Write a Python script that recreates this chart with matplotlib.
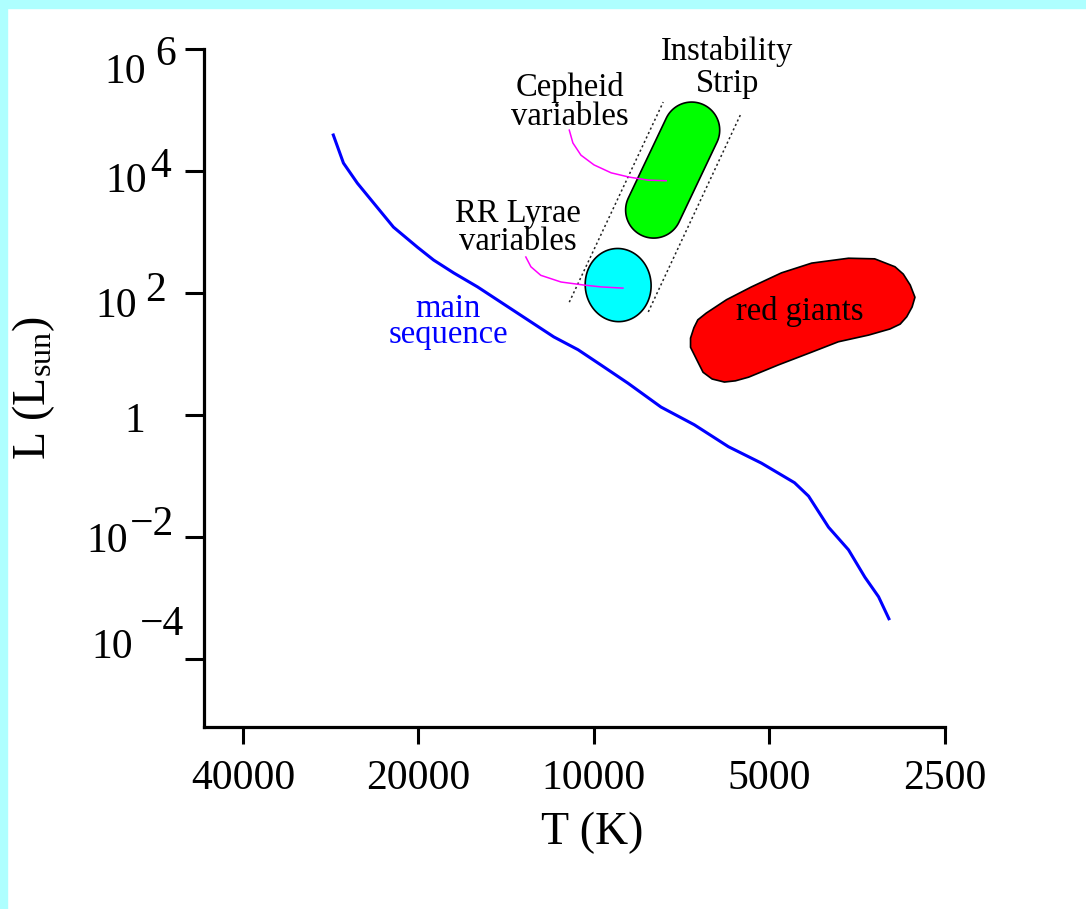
import numpy as np
import matplotlib
matplotlib.use("Agg")
import matplotlib.pyplot as plt
from matplotlib.patches import Rectangle
from matplotlib.ticker import NullLocator, NullFormatter, FixedFormatter

plt.rcParams['font.family'] = ['Liberation Serif', 'DejaVu Serif']
plt.rcParams['mathtext.fontset'] = 'custom'
plt.rcParams['mathtext.rm'] = 'Liberation Serif'
plt.rcParams['mathtext.it'] = 'Liberation Serif:italic'

# --- main sequence (T in K, log10 L in L_sun) ---
ms_T = [28000, 26900, 25460, 23900, 22080, 20080, 18840, 17410, 15840, 14450,
        12990, 11720, 10650, 9730, 8740, 7675, 6730, 5880, 5160, 4530,
        4285, 3960, 3660, 3430, 3250, 3120]
ms_logL = [4.59, 4.13, 3.80, 3.48, 3.08, 2.75, 2.54, 2.33, 2.10, 1.85,
           1.56, 1.28, 1.07, 0.82, 0.52, 0.13, -0.16, -0.52, -0.79, -1.11,
           -1.33, -1.84, -2.21, -2.66, -2.98, -3.34]

# --- red giant region outline ---
rg_T = [6830, 6830, 6740, 6636, 6420, 5925, 5370, 4770, 4233, 3660, 3300,
        3046, 2948, 2868, 2815, 2847, 2908, 2984, 3107, 3380, 3810, 4233,
        4830, 5430, 5720, 5975, 6272, 6500, 6620]
rg_logL = [1.11, 1.26, 1.43, 1.56, 1.67, 1.89, 2.10, 2.33, 2.49, 2.57, 2.56,
           2.43, 2.31, 2.13, 1.93, 1.77, 1.61, 1.49, 1.41, 1.31, 1.20, 1.03,
           0.82, 0.62, 0.56, 0.54, 0.59, 0.70, 0.85]

# --- instability strip: Cepheids (capsule), RR Lyrae (blob) ---
cep_T = [7900, 6800]
cep_logL = [3.36, 4.67]
cep_halfwidth = 0.46          # dex of L
rr_T = 9090
rr_logL = 2.13
rr_axes = (0.54, 0.60)        # dex of L

strip_left_T = [11025, 7608]
strip_left_logL = [1.85, 5.13]
strip_right_T = [8070, 5590]
strip_right_logL = [1.69, 4.95]

# leader lines from labels
cep_lead_T = [11025, 10870, 10530, 10000, 9345, 8705, 8070, 7520]
cep_lead_logL = [4.67, 4.46, 4.26, 4.10, 3.97, 3.90, 3.85, 3.84]
rr_lead_T = [13090, 12830, 12340, 11390, 10400, 9730, 8920]
rr_lead_logL = [2.59, 2.43, 2.29, 2.18, 2.13, 2.10, 2.08]

# --- axes ticks ---
T_ticks = [40000, 20000, 10000, 5000, 2500]
T_labels = ['40000', '20000', '10000', '5000', '2500']
L_ticks = [1e6, 1e4, 1e2, 1, 1e-2, 1e-4]
L_bases = ['10', '10', '10', '1', '10', '10']
L_exps = ['6', '4', '2', '', '\u22122', '\u22124']
# hand-placed label offsets (pixels): base right edge/baseline, exponent left edge/baseline
L_base_off = [(-58, -34), (-57, -21), (-67, -24), (-59, -17), (-76, -15), (-71, 1)]
L_exp_off = [(-49, -16), (-54, -6), (-59, -8), (0, 0), (-74, 2), (-64, 24)]

W, H = 1086, 909
fig = plt.figure(figsize=(W / 100, H / 100), dpi=100)
fig.patch.set_facecolor('white')
fig.add_artist(Rectangle((0, 0), 7 / W, 1, transform=fig.transFigure,
                         color='#AEFFFF', zorder=0))
fig.add_artist(Rectangle((0, 1 - 8 / H), 1, 8 / H, transform=fig.transFigure,
                         color='#AEFFFF', zorder=0))

ax = fig.add_axes([204 / W, (H - 727) / H, (945 - 204) / W, (727 - 49) / H])
ax.set_xscale('log')
ax.set_yscale('log')
ax.set_xlim(46660, 2500)
ax.set_ylim(10 ** -5.115, 1e6)

for s in ['top', 'right']:
    ax.spines[s].set_visible(False)
for s in ['left', 'bottom']:
    ax.spines[s].set_linewidth(2.3)

ax.set_xticks(T_ticks)
ax.xaxis.set_major_formatter(FixedFormatter(T_labels))
ax.xaxis.set_minor_locator(NullLocator())
ax.set_yticks(L_ticks)
ax.yaxis.set_major_formatter(NullFormatter())
ax.yaxis.set_minor_locator(NullLocator())
ax.tick_params(axis='x', direction='out', length=12.5, width=2.2,
               labelsize=30, pad=11)
ax.tick_params(axis='y', direction='out', length=13.7, width=2.2)

for yv, b, e, bo, eo in zip(L_ticks, L_bases, L_exps, L_base_off, L_exp_off):
    ax.annotate(b, xy=(0, yv), xycoords=('axes fraction', 'data'),
                xytext=bo, textcoords='offset pixels',
                ha='right', va='baseline', fontsize=30)
    if e:
        ax.annotate(e, xy=(0, yv), xycoords=('axes fraction', 'data'),
                    xytext=eo, textcoords='offset pixels',
                    ha='left', va='baseline', fontsize=30)

ax.set_xlabel('T (K)', fontsize=33)
ax.xaxis.set_label_coords(0.524, -0.125)
ax.set_ylabel(r'L $(\mathrm{L}_{\mathrm{sun}})$', fontsize=33)
ax.yaxis.set_label_coords(-0.199, 0.50)

# ratio of pixel size of one dex in T to one dex in L
pos = ax.get_position()
x_dex = np.log10(46660 / 2500)
y_dex = 6 + 5.115
k = (pos.width * W / x_dex) / (pos.height * H / y_dex)


def capsule(T_ends, logL_ends, r, n=60):
    u = -np.log10(T_ends) * k
    v = np.asarray(logL_ends, dtype=float)
    d = np.arctan2(v[1] - v[0], u[1] - u[0])
    t1 = np.linspace(d - np.pi / 2, d + np.pi / 2, n)
    t0 = np.linspace(d + np.pi / 2, d + 3 * np.pi / 2, n)
    uu = np.concatenate([u[1] + r * np.cos(t1), u[0] + r * np.cos(t0)])
    vv = np.concatenate([v[1] + r * np.sin(t1), v[0] + r * np.sin(t0)])
    return 10 ** (-uu / k), 10 ** vv


def ellipse(Tc, logLc, a, b, ang, n=120):
    t = np.linspace(0, 2 * np.pi, n)
    x, y = a * np.cos(t), b * np.sin(t)
    c, s = np.cos(ang), np.sin(ang)
    uu = -np.log10(Tc) * k + x * c - y * s
    vv = logLc + x * s + y * c
    return 10 ** (-uu / k), 10 ** vv


# instability strip edges
for sT, sL in [(strip_left_T, strip_left_logL), (strip_right_T, strip_right_logL)]:
    ax.plot(sT, 10 ** np.array(sL), color='#222222', lw=1.1,
            ls=(0, (1.4, 1.8)), zorder=2)

cx, cy = capsule(cep_T, cep_logL, cep_halfwidth)
ax.fill(cx, cy, facecolor='#00FF00', edgecolor='black', lw=1.2, zorder=3)
ex, ey = ellipse(rr_T, rr_logL, rr_axes[0], rr_axes[1], 0.08)
ax.fill(ex, ey, facecolor='#00FFFF', edgecolor='black', lw=1.2, zorder=3)
ax.fill(rg_T, 10 ** np.array(rg_logL), facecolor='#FF0000',
        edgecolor='black', lw=1.2, joinstyle='round', zorder=3)

ax.plot(cep_lead_T, 10 ** np.array(cep_lead_logL), color='#FF00FF', lw=1.1, zorder=4)
ax.plot(rr_lead_T, 10 ** np.array(rr_lead_logL), color='#FF00FF', lw=1.1, zorder=4)

ax.plot(ms_T, 10 ** np.array(ms_logL), color='#0000FF', lw=2.2, zorder=4)

# multi-line labels are anchored at the baseline of their last line
fs = 23.5
ax.text(5908, 10 ** 5.30, 'Instability\nStrip', ha='center', va='baseline',
        fontsize=fs, linespacing=1.07, zorder=5)
ax.text(10990, 10 ** 4.75, 'Cepheid\nvariables', ha='center', va='baseline',
        fontsize=fs, linespacing=0.93, zorder=5)
ax.text(13500, 10 ** 2.70, 'RR Lyrae\nvariables', ha='center', va='baseline',
        fontsize=fs, linespacing=0.89, zorder=5)
ax.text(17790, 10 ** 1.18, 'main\nsequence', ha='center', va='baseline',
        fontsize=fs, linespacing=0.8, color='#0000FF', zorder=5)
ax.text(4435, 10 ** 1.557, 'red giants', ha='center', va='baseline',
        fontsize=fs, zorder=5)

fig.savefig('out.png', dpi=100)
